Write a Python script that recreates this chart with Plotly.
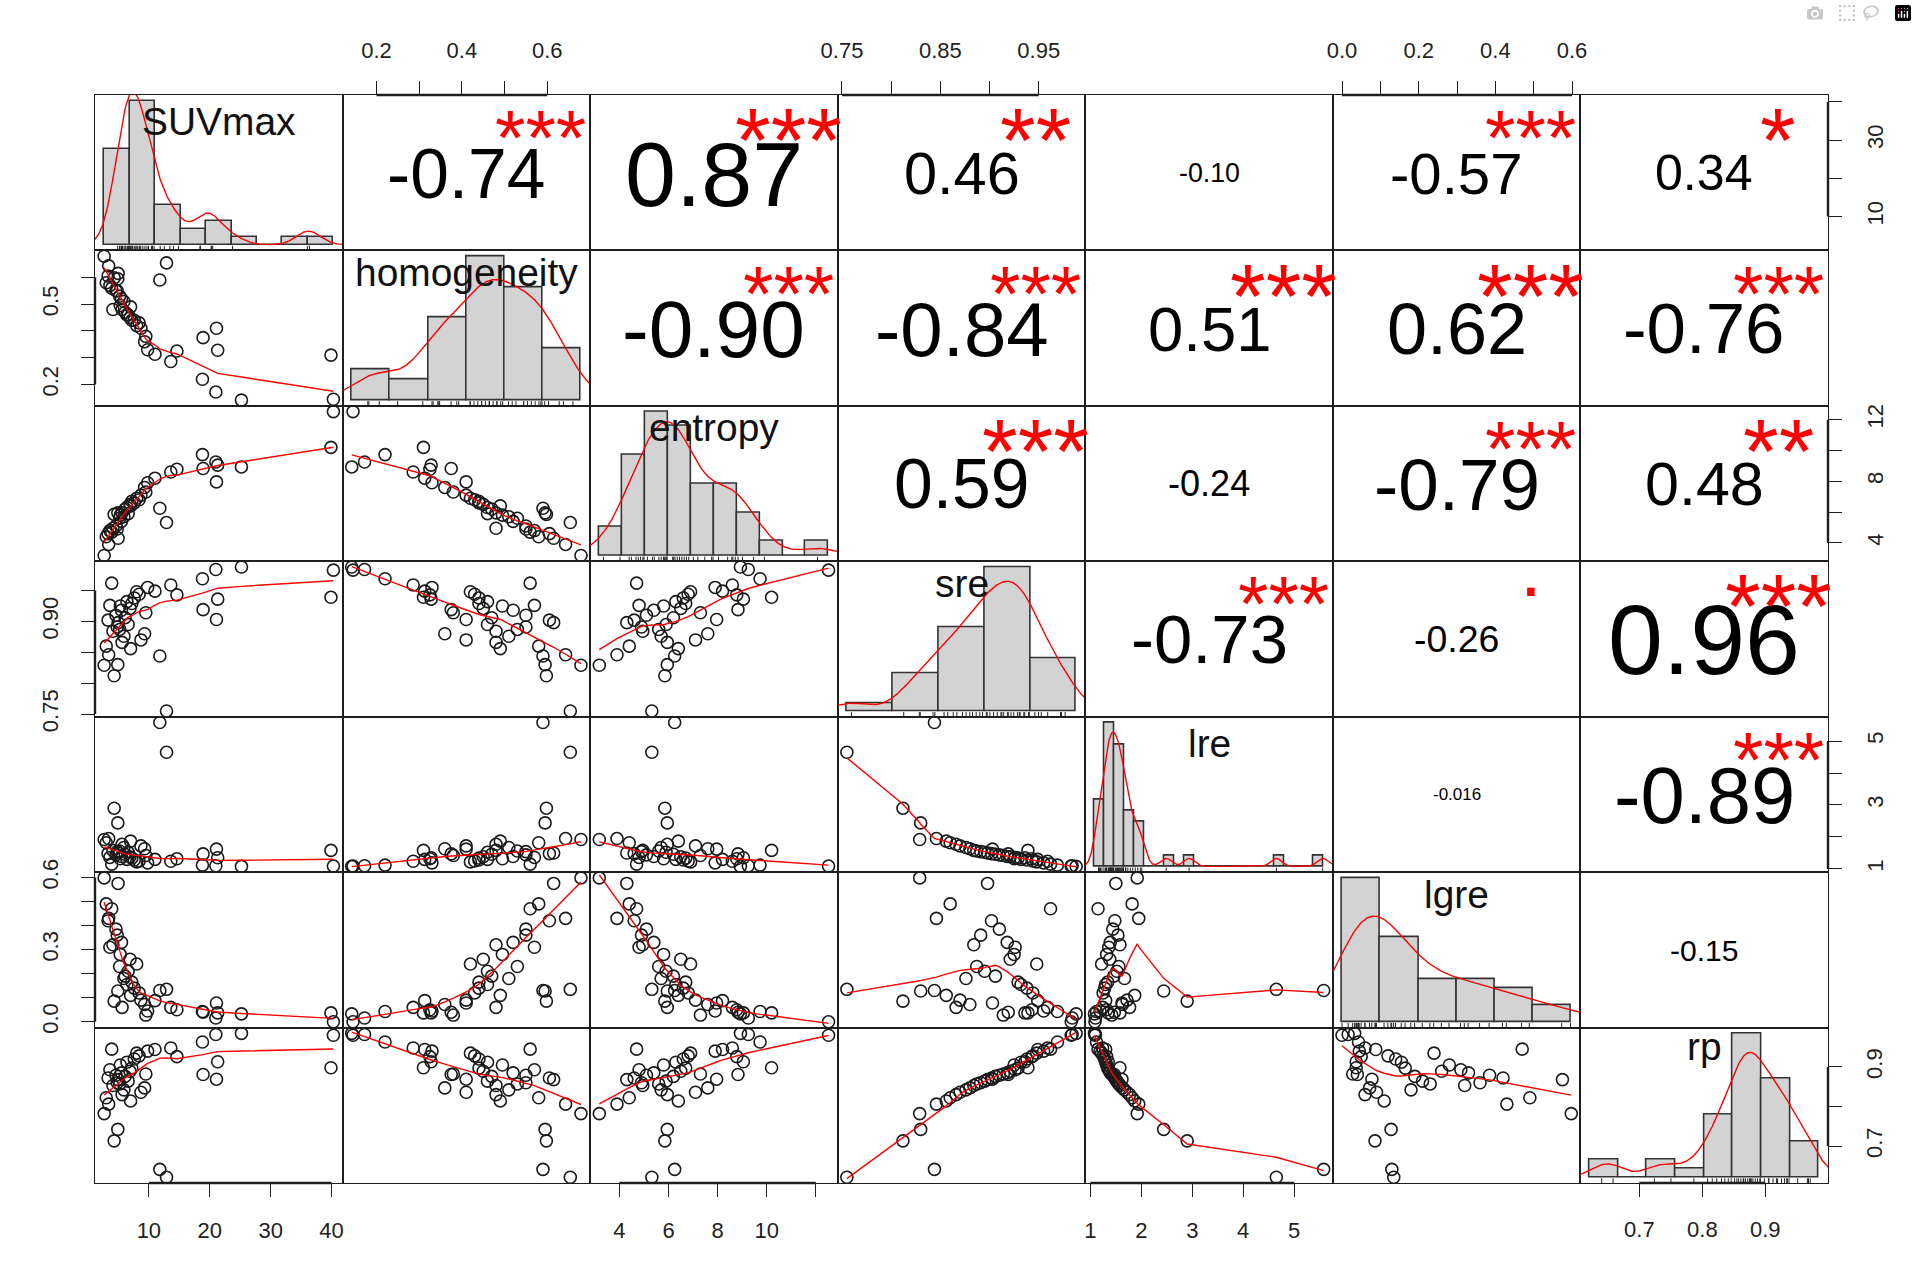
import numpy as np
import plotly.graph_objects as go
from plotly.subplots import make_subplots

var_names = ["SUVmax", "homogeneity", "entropy", "sre", "lre", "lgre", "rp"]

SUVmax = [40.3, 39.9, 25.2, 21.0, 21.3, 21.1, 18.8, 18.9, 14.6, 13.6, 11.0, 11.8, 12.9, 2.66, 4.3, 4.9,
          3.9, 9.8, 8.0, 8.4, 7.6, 6.4, 5.3, 7.2, 3.6, 6.9, 5.5, 9.5, 4.6, 6.1, 3.3, 4.95, 6.6, 4.8,
          5.2, 4.1, 9.3, 5.9, 8.7, 5.6, 3.0, 7.0, 3.4]
homogeneity = [0.145, 0.31, 0.142, 0.172, 0.328, 0.41, 0.22, 0.375, 0.325, 0.286, 0.313, 0.59, 0.654, 0.679,
               0.598, 0.595, 0.56, 0.33, 0.42, 0.43, 0.44, 0.46, 0.495, 0.44, 0.57, 0.45, 0.52, 0.38, 0.55,
               0.47, 0.605, 0.615, 0.46, 0.55, 0.53, 0.48, 0.36, 0.51, 0.41, 0.48, 0.58, 0.49, 0.643]
entropy = [12.52, 10.2, 8.93, 9.25, 9.05, 7.96, 9.73, 8.83, 8.78, 8.6, 8.2, 6.25, 5.32, 3.18, 5.85, 5.95,
           4.7, 7.9, 6.9, 6.8, 6.6, 6.3, 5.8, 6.7, 4.8, 6.5, 5.4, 7.3, 5.1, 6.2, 4.6, 4.3, 5.9, 4.9,
           5.6, 4.95, 7.6, 5.7, 7.1, 5.95, 4.4, 6.4, 3.9]
sre = [0.983, 0.939, 0.988, 0.984, 0.936, 0.903, 0.969, 0.919, 0.943, 0.959, 0.949, 0.844, 0.755, 0.829,
       0.812, 0.830, 0.962, 0.955, 0.948, 0.944, 0.938, 0.932, 0.925, 0.929, 0.926, 0.921, 0.918, 0.914,
       0.910, 0.906, 0.902, 0.898, 0.895, 0.891, 0.887, 0.884, 0.880, 0.876, 0.870, 0.866, 0.860, 0.856, 0.846]
lre = [1.09, 1.58, 1.08, 1.10, 1.35, 1.62, 1.12, 1.47, 1.32, 1.24, 1.30, 5.58, 4.65, 1.92, 2.90, 2.44,
       1.15, 1.19, 1.22, 1.25, 1.28, 1.30, 1.32, 1.34, 1.36, 1.38, 1.39, 1.42, 1.44, 1.46, 1.48, 1.50,
       1.52, 1.54, 1.56, 1.58, 1.63, 1.67, 1.72, 1.77, 1.82, 1.87, 1.95]
lgre = [0.0, 0.037, 0.033, 0.016, 0.037, 0.078, 0.043, 0.040, 0.050, 0.060, 0.088, 0.13, 0.135, 0.598,
        0.086, 0.128, 0.47, 0.045, 0.24, 0.12, 0.14, 0.155, 0.28, 0.165, 0.31, 0.26, 0.33, 0.028, 0.385,
        0.19, 0.42, 0.575, 0.21, 0.36, 0.23, 0.32, 0.072, 0.18, 0.09, 0.06, 0.49, 0.11, 0.43]
rp = [0.980, 0.898, 0.985, 0.982, 0.913, 0.869, 0.963, 0.881, 0.926, 0.948, 0.944, 0.641, 0.621, 0.782,
      0.713, 0.742, 0.945, 0.940, 0.935, 0.928, 0.920, 0.912, 0.905, 0.897, 0.893, 0.889, 0.885, 0.882,
      0.879, 0.876, 0.872, 0.868, 0.864, 0.860, 0.857, 0.853, 0.847, 0.842, 0.836, 0.830, 0.822, 0.814, 0.806]

# histogram breaks as drawn
breaks_SUVmax = [0, 5, 10, 15, 20, 25, 30, 35, 40, 45]
breaks_homogeneity = [0.1, 0.2, 0.3, 0.4, 0.5, 0.6, 0.7]
breaks_entropy = [3, 4, 5, 6, 7, 8, 9, 10, 11, 12, 13]
breaks_sre = [0.75, 0.80, 0.85, 0.90, 0.95, 1.00]
breaks_lre = [1.0, 1.2, 1.4, 1.6, 1.8, 2.0, 2.2, 2.4, 2.6, 2.8, 3.0, 3.2, 3.4, 3.6, 3.8, 4.0, 4.2, 4.4,
              4.6, 4.8, 5.0, 5.2, 5.4, 5.6]
breaks_lgre = [0.0, 0.1, 0.2, 0.3, 0.4, 0.5, 0.6]
breaks_rp = [0.60, 0.65, 0.70, 0.75, 0.80, 0.85, 0.90, 0.95, 1.00]

# upper-panel correlation labels (row-major over i<j) and significance symbols
corr_text = ["-0.74", "0.87", "0.46", "-0.10", "-0.57", "0.34",
             "-0.90", "-0.84", "0.51", "0.62", "-0.76",
             "0.59", "-0.24", "-0.79", "0.48",
             "-0.73", "-0.26", "0.96",
             "-0.016", "-0.89",
             "-0.15"]
corr_stars = ["***", "***", "**", "", "***", "*",
              "***", "***", "***", "***", "***",
              "***", "", "***", "**",
              "***", ".", "***",
              "", "***",
              ""]

# outer axis ticks
top_ticks = {1: ([0.2, 0.3, 0.4, 0.5, 0.6], ["0.2", "", "0.4", "", "0.6"]),
             3: ([0.75, 0.80, 0.85, 0.90, 0.95], ["0.75", "", "0.85", "", "0.95"]),
             5: ([0.0, 0.1, 0.2, 0.3, 0.4, 0.5, 0.6], ["0.0", "", "0.2", "", "0.4", "", "0.6"])}
bottom_ticks = {0: ([10, 20, 30, 40], ["10", "20", "30", "40"]),
                2: ([4, 6, 8, 10, 12], ["4", "6", "8", "10", ""]),
                4: ([1, 2, 3, 4, 5], ["1", "2", "3", "4", "5"]),
                6: ([0.7, 0.8, 0.9], ["0.7", "0.8", "0.9"])}
left_ticks = {1: ([0.2, 0.3, 0.4, 0.5, 0.6], ["0.2", "", "", "0.5", ""]),
              3: ([0.75, 0.80, 0.85, 0.90, 0.95], ["0.75", "", "", "0.90", ""]),
              5: ([0.0, 0.1, 0.2, 0.3, 0.4, 0.5, 0.6], ["0.0", "", "", "0.3", "", "", "0.6"])}
right_ticks = {0: ([10, 20, 30, 40], ["10", "", "30", ""]),
               2: ([4, 6, 8, 10, 12], ["4", "", "8", "", "12"]),
               4: ([1, 2, 3, 4, 5], ["1", "", "3", "", "5"]),
               6: ([0.7, 0.8, 0.9], ["0.7", "", "0.9"])}

# ---------------- helpers ----------------
FONT = "Liberation Sans, Arial, sans-serif"
W, H = 1917, 1264
ML, MR, MT, MB = 95, 89, 95, 81
N = 7
PW = (W - ML - MR) / N
PH = (H - MT - MB) / N

CW = {**{d: 0.556 for d in "0123456789"}, ".": 0.278, "-": 0.333, "*": 0.389,
      "S": 0.667, "U": 0.722, "V": 0.667, "m": 0.833, "a": 0.556, "x": 0.5, "h": 0.556, "o": 0.556,
      "g": 0.556, "e": 0.556, "n": 0.556, "i": 0.222, "t": 0.278, "y": 0.5, "r": 0.333, "p": 0.556,
      "s": 0.5, "l": 0.222}
ASC, DESC = 0.905, 0.212
BOXC = (ASC - DESC) / 2.0
INK = {"SUVmax": 0.352, "homogeneity": 0.253, "entropy": 0.24, "sre": 0.26, "lre": 0.358,
       "lgre": 0.253, "rp": 0.16}
STAR_SCALE = 0.9


def em(s):
    return sum(CW.get(c, 0.556) for c in s)


def ext(lo, hi):
    d = hi - lo
    return [lo - 0.04 * d, hi + 0.04 * d]


def lowess(x, y, f=2 / 3, iters=3):
    x = np.asarray(x, float)
    y = np.asarray(y, float)
    o = np.argsort(x, kind="mergesort")
    x, y = x[o], y[o]
    n = len(x)
    ns = max(2, min(n, int(f * n + 1e-7)))
    rw = np.ones(n)
    ys = np.zeros(n)
    rng = x[-1] - x[0]
    for it in range(iters + 1):
        nl, nr = 0, ns - 1
        for i in range(n):
            while nr < n - 1 and (x[i] - x[nl]) > (x[nr + 1] - x[i]):
                nl += 1
                nr += 1
            h = max(x[i] - x[nl], x[nr] - x[i])
            r = np.abs(x - x[i])
            w = np.zeros(n)
            m = r <= 0.999 * h
            w[m] = np.where(r[m] <= 0.001 * h, 1.0, (1 - (r[m] / h) ** 3) ** 3) if h > 0 else 1.0
            w = w * rw
            s = w.sum()
            if s <= 0:
                ys[i] = y[i]
                continue
            w = w / s
            if h > 0:
                a = np.sum(w * x)
                b = x[i] - a
                c = np.sum(w * (x - a) ** 2)
                if np.sqrt(c) > 0.001 * rng:
                    b /= c
                    w = w * (b * (x - a) + 1.0)
            ys[i] = np.sum(w * y)
        if it == iters:
            break
        res = np.abs(y - ys)
        cmad = 6 * np.median(res)
        if cmad < 1e-7 * np.mean(res):
            break
        rw = np.where(res <= 0.001 * cmad, 1.0,
                      np.where(res <= 0.999 * cmad, (1 - (res / cmad) ** 2) ** 2, 0.0))
    return x, ys


def kde(v):
    v = np.asarray(v, float)
    n = len(v)
    sd = np.std(v, ddof=1)
    q75, q25 = np.percentile(v, [75, 25])
    lo = min(sd, (q75 - q25) / 1.34)
    bw = 0.9 * lo * n ** -0.2
    g = np.linspace(v.min() - 3 * bw, v.max() + 3 * bw, 512)
    d = np.exp(-0.5 * ((g[:, None] - v[None, :]) / bw) ** 2).sum(1) / (n * bw * np.sqrt(2 * np.pi))
    return g, d


def rhist(v, br):
    v = np.asarray(v, float)
    br = np.asarray(br, float)
    idx = np.searchsorted(br, v - 1e-12, side="left") - 1
    idx[idx < 0] = 0
    cnt = np.bincount(idx, minlength=len(br) - 1)[: len(br) - 1]
    wd = np.diff(br)
    dens = cnt / (len(v) * wd)
    return (br[:-1] + br[1:]) / 2, wd, dens


def xa(k):
    return "x" if k == 1 else f"x{k}"


def ya(k):
    return "y" if k == 1 else f"y{k}"


# ---------------- figure ----------------
cols = [SUVmax, homogeneity, entropy, sre, lre, lgre, rp]
brks = [breaks_SUVmax, breaks_homogeneity, breaks_entropy, breaks_sre, breaks_lre, breaks_lgre, breaks_rp]
arr = [np.array(c, float) for c in cols]
ranges = [ext(a.min(), a.max()) for a in arr]

fig = make_subplots(rows=N, cols=N, horizontal_spacing=0, vertical_spacing=0)

LINEC = "#1e1e1e"
base_axis = dict(showgrid=False, zeroline=False, showline=True, mirror=True, linecolor=LINEC,
                 linewidth=1.3, ticks="", showticklabels=False, fixedrange=True)
tick_style = dict(ticks="outside", ticklen=13, tickwidth=1.2, tickcolor=LINEC, showticklabels=True,
                  tickfont=dict(family=FONT, size=22, color="#222"), tickmode="array")

annotations = []
shapes = []
label_fs = 0.9 * PW / max(em(nm) for nm in var_names)
pair = 0
upper_index = {}
for i in range(N):
    for j in range(i + 1, N):
        upper_index[(i, j)] = pair
        pair += 1

for i in range(N):
    for j in range(N):
        k = i * N + j + 1
        xd = dict(base_axis)
        yd = dict(base_axis)
        if i == j:
            centers, widths, dens = rhist(arr[i], brks[i])
            b = brks[i]
            xr = ext(b[0], b[-1])
            yr = [-0.04 * dens.max(), 1.04 * dens.max()]
            fig.add_trace(go.Bar(x=centers, y=dens, width=widths,
                                 marker=dict(color="#D3D3D3", line=dict(color="#333333", width=1.6)),
                                 hoverinfo="skip"), row=i + 1, col=j + 1)
            g, d = kde(arr[i])
            fig.add_trace(go.Scatter(x=g, y=d, mode="lines", line=dict(color="red", width=1.4),
                                     hoverinfo="skip"), row=i + 1, col=j + 1)
            rx, ry = [], []
            for v in arr[i]:
                rx += [v, v, None]
                ry += [yr[0], yr[0] + 0.03 * (yr[1] - yr[0]), None]
            fig.add_trace(go.Scatter(x=rx, y=ry, mode="lines", line=dict(color="#222", width=1),
                                     hoverinfo="skip"), row=i + 1, col=j + 1)
            nm = var_names[i]
            annotations.append(dict(text=nm, x=0.5, y=0.8333, xref=f"{xa(k)} domain", yref=f"{ya(k)} domain",
                                    showarrow=False, xanchor="center", yanchor="middle",
                                    yshift=(BOXC - INK[nm]) * label_fs,
                                    font=dict(family=FONT, size=label_fs, color="#111")))
        else:
            xr = ranges[j]
            yr = ranges[i]
            if i > j:
                fig.add_trace(go.Scatter(x=arr[j], y=arr[i], mode="markers",
                                         marker=dict(symbol="circle-open", size=12, color="#1a1a1a",
                                                     line=dict(width=1.6)),
                                         hoverinfo="skip"), row=i + 1, col=j + 1)
                lx, ly = lowess(arr[j], arr[i])
                fig.add_trace(go.Scatter(x=lx, y=ly, mode="lines", line=dict(color="red", width=1.4),
                                         hoverinfo="skip"), row=i + 1, col=j + 1)
            else:
                # invisible points keep the (otherwise empty) panel and its frame alive
                fig.add_trace(go.Scatter(x=arr[j], y=arr[i], mode="markers", marker=dict(opacity=0),
                                         hoverinfo="skip"), row=i + 1, col=j + 1)
                p = upper_index[(i, j)]
                txt = corr_text[p]
                r = abs(float(txt))
                base_fs = 0.8 * PW / em(txt)
                fs = base_fs * (r + 0.3) / 1.3
                annotations.append(dict(text=txt, x=0.5, y=0.5, xref=f"{xa(k)} domain", yref=f"{ya(k)} domain",
                                        showarrow=False, xanchor="center", yanchor="middle",
                                        yshift=(BOXC - 0.358) * fs,
                                        font=dict(family=FONT, size=fs, color="#000")))
                st = corr_stars[p]
                if st:
                    sfs = base_fs * STAR_SCALE
                    inkc = 0.052 if st == "." else 0.50
                    annotations.append(dict(text=st, x=0.8, y=0.8, xref=f"{xa(k)} domain",
                                            yref=f"{ya(k)} domain", showarrow=False, xanchor="center",
                                            yanchor="middle", yshift=(BOXC - inkc) * sfs,
                                            font=dict(family=FONT, size=sfs, color="#FF0000")))
        xd["range"] = xr
        yd["range"] = yr
        if i != j:
            if i == 0 and j in top_ticks:
                tv, tt = top_ticks[j]
                xd.update(tick_style, side="top", tickvals=tv, ticktext=tt, ticklabelstandoff=14)
                shapes.append(dict(type="line", xref=xa(k), yref=f"{ya(k)} domain", x0=tv[0], x1=tv[-1],
                                   y0=1, y1=1, line=dict(color=LINEC, width=2.4)))
            if i == N - 1 and j in bottom_ticks:
                tv, tt = bottom_ticks[j]
                xd.update(tick_style, side="bottom", tickvals=tv, ticktext=tt, ticklabelstandoff=14)
                shapes.append(dict(type="line", xref=xa(k), yref=f"{ya(k)} domain", x0=tv[0], x1=tv[-1],
                                   y0=0, y1=0, line=dict(color=LINEC, width=2.4)))
            if j == 0 and i in left_ticks:
                tv, tt = left_ticks[i]
                yd.update(tick_style, side="left", tickvals=tv, ticktext=tt, tickangle=-90,
                          ticklabelstandoff=14)
                shapes.append(dict(type="line", yref=ya(k), xref=f"{xa(k)} domain", y0=tv[0], y1=tv[-1],
                                   x0=0, x1=0, line=dict(color=LINEC, width=2.4)))
            if j == N - 1 and i in right_ticks:
                tv, tt = right_ticks[i]
                yd.update(tick_style, side="right", tickvals=tv, ticktext=tt, tickangle=-90,
                          ticklabelstandoff=14)
                shapes.append(dict(type="line", yref=ya(k), xref=f"{xa(k)} domain", y0=tv[0], y1=tv[-1],
                                   x0=1, x1=1, line=dict(color=LINEC, width=2.4)))
        fig.update_layout({("xaxis" if k == 1 else f"xaxis{k}"): xd,
                           ("yaxis" if k == 1 else f"yaxis{k}"): yd})

# bottom-right diagonal: outer rp axes in variable coordinates (overlay)
kd = N * N
ko = kd + 1
tvb, ttb = bottom_ticks[N - 1]
tvr, ttr = right_ticks[N - 1]
fig.add_trace(go.Scatter(x=arr[N - 1], y=arr[N - 1], mode="markers", marker=dict(opacity=0),
                         hoverinfo="skip", xaxis=f"x{ko}", yaxis=f"y{ko}"))
fig.update_layout({
    f"xaxis{ko}": dict(base_axis, overlaying=f"x{kd}", anchor=f"y{ko}", side="bottom", range=ranges[N - 1],
                       showline=False, mirror=False, **tick_style, tickvals=tvb, ticktext=ttb,
                       ticklabelstandoff=14),
    f"yaxis{ko}": dict(base_axis, overlaying=f"y{kd}", anchor=f"x{ko}", side="right", range=ranges[N - 1],
                       showline=False, mirror=False, **tick_style, tickvals=tvr, ticktext=ttr, tickangle=-90,
                       ticklabelstandoff=14),
})
shapes.append(dict(type="line", xref=f"x{ko}", yref=f"y{kd} domain", x0=tvb[0], x1=tvb[-1], y0=0, y1=0,
                   line=dict(color=LINEC, width=2.4)))
shapes.append(dict(type="line", yref=f"y{ko}", xref=f"x{kd} domain", y0=tvr[0], y1=tvr[-1], x0=1, x1=1,
                   line=dict(color=LINEC, width=2.4)))

fig.update_layout(width=W, height=H, margin=dict(l=ML, r=MR, t=MT, b=MB, pad=0),
                  paper_bgcolor="white", plot_bgcolor="white", showlegend=False,
                  bargap=0, annotations=annotations, shapes=shapes,
                  font=dict(family=FONT, color="#222"))

fig.write_html("out.html", include_plotlyjs=True,
               post_script="document.body.style.margin='0px';document.body.style.overflow='hidden';")
